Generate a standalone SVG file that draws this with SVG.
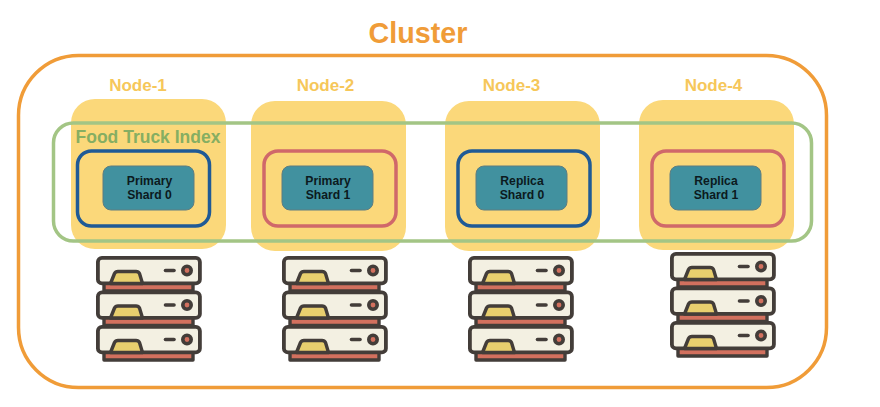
<svg xmlns="http://www.w3.org/2000/svg" xmlns:xlink="http://www.w3.org/1999/xlink" width="880" height="407" viewBox="0 0 880 407">
<style>
text{font-family:"Liberation Sans",Arial,sans-serif;font-weight:bold;text-anchor:middle}
.node{fill:#fbd87a}
.nl{font-size:17px;fill:#f6c75a}
.blue{fill:none;stroke:#1f5a96;stroke-width:3.5}
.red{fill:none;stroke:#d0686a;stroke-width:3.5}
.shard{fill:#41919f;stroke:#5f7d80;stroke-width:1}
.sl{font-size:12.2px;fill:#0c1a20}
.b{fill:#f3f0e2;stroke:#433d39;stroke-width:3.8;stroke-linejoin:round}
.bar{fill:#d2705e;stroke:#433d39;stroke-width:3.4;stroke-linejoin:round}
.g{fill:#e8cf6e;stroke:#433d39;stroke-width:3.4;stroke-linejoin:round}
.d{fill:none;stroke:#433d39;stroke-width:3.6;stroke-linecap:round}
.c{fill:#d2705e;stroke:#433d39;stroke-width:3.6}
</style>
<defs>
<g id="unit">
<rect class="bar" x="8" y="25" width="89" height="10"/>
<rect class="b" x="1.900" y="1.900" width="102" height="25.500" rx="4"/>
<path class="g" d="M14.500 27.500 L18.500 17.500 Q19.500 15.500 22 15.500 L40 15.500 Q42.500 15.500 43.500 17.500 L46.500 27.500 Z"/>
<path class="d" d="M69.500 14.500 H78"/>
<circle class="c" cx="91" cy="14.500" r="4.200"/>
</g>
<g id="stack">
<use xlink:href="#unit" href="#unit"/>
<use xlink:href="#unit" href="#unit" y="34.500"/>
<use xlink:href="#unit" href="#unit" y="69"/>
</g>
</defs>
<rect width="880" height="407" fill="#fff"/>
<g id="cluster">
<rect x="18.500" y="55.500" width="808" height="332" rx="60" fill="none" stroke="#f09c38" stroke-width="3.500"/>
<text x="418" y="43" font-size="28.700" fill="#f09c38">Cluster</text>
</g>
<g id="node-1"><rect class="node" x="71" y="99" width="155" height="150" rx="24"/><text class="nl" x="138" y="91">Node-1</text></g>
<g id="node-2"><rect class="node" x="251" y="101" width="155" height="150" rx="24"/><text class="nl" x="325.500" y="91">Node-2</text></g>
<g id="node-3"><rect class="node" x="445" y="101" width="155" height="150" rx="24"/><text class="nl" x="511.500" y="91">Node-3</text></g>
<g id="node-4"><rect class="node" x="639" y="100" width="155" height="150" rx="24"/><text class="nl" x="713.500" y="91">Node-4</text></g>
<g id="index">
<rect x="53.500" y="123" width="758" height="118" rx="20" fill="none" stroke="#a3c585" stroke-width="3.500"/>
<text x="148" y="143" font-size="17.500" fill="#86ae62">Food Truck Index</text>
</g>
<g id="shard-p0"><rect class="blue" x="77.500" y="151" width="132" height="75" rx="14"/><rect class="shard" x="103" y="166" width="91" height="44" rx="8"/><text class="sl" x="149.500" y="185">Primary</text><text class="sl" x="149.500" y="199">Shard 0</text></g>
<g id="shard-p1"><rect class="red" x="264" y="151" width="132" height="75" rx="14"/><rect class="shard" x="282" y="166" width="91" height="44" rx="8"/><text class="sl" x="328" y="185">Primary</text><text class="sl" x="328" y="199">Shard 1</text></g>
<g id="shard-r0"><rect class="blue" x="458" y="151" width="132" height="75" rx="14"/><rect class="shard" x="476" y="166" width="91" height="44" rx="8"/><text class="sl" x="522" y="185">Replica</text><text class="sl" x="522" y="199">Shard 0</text></g>
<g id="shard-r1"><rect class="red" x="652" y="151" width="132" height="75" rx="14"/><rect class="shard" x="670" y="166" width="91" height="44" rx="8"/><text class="sl" x="716" y="185">Replica</text><text class="sl" x="716" y="199">Shard 1</text></g>
<g id="server-1"><use xlink:href="#stack" href="#stack" x="96" y="256"/></g>
<g id="server-2"><use xlink:href="#stack" href="#stack" x="282" y="256"/></g>
<g id="server-3"><use xlink:href="#stack" href="#stack" x="468" y="256"/></g>
<g id="server-4"><use xlink:href="#stack" href="#stack" x="670" y="252"/></g>
<g id="connectors"/>
</svg>
